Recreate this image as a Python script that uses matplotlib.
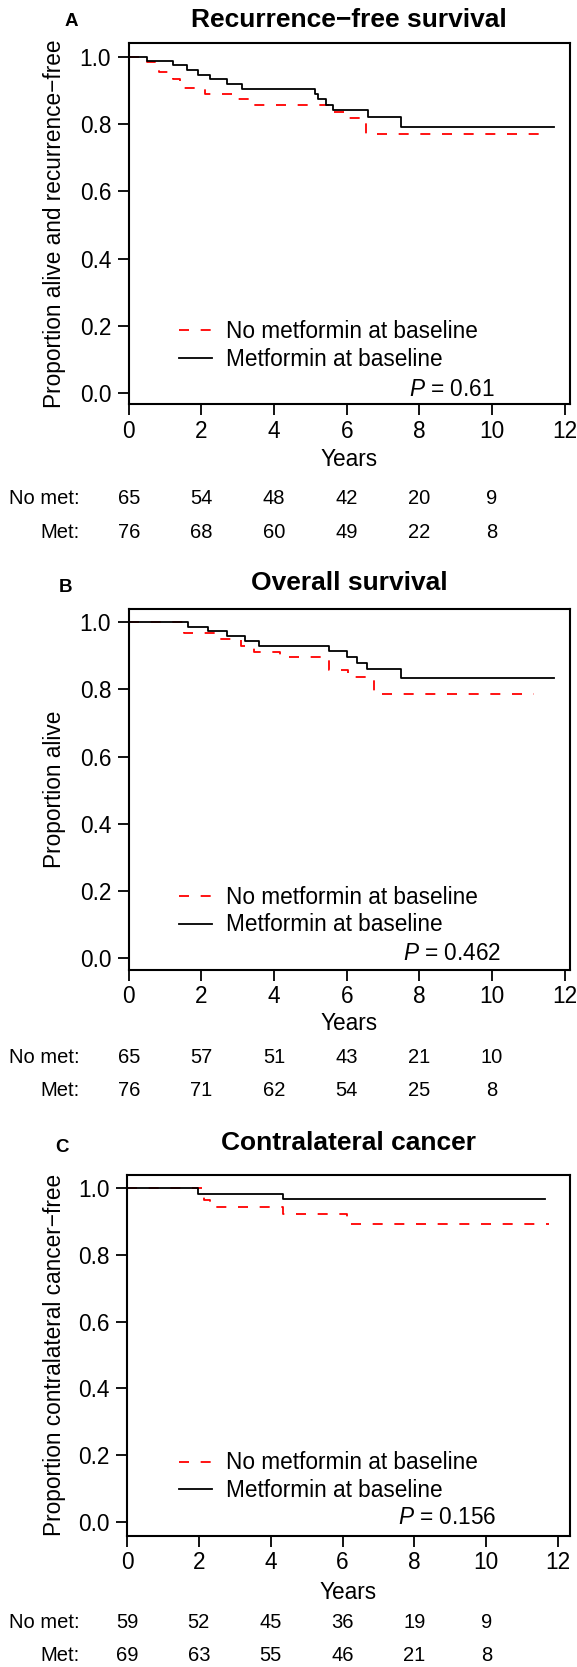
import matplotlib
matplotlib.use("Agg")
import matplotlib.pyplot as plt
from matplotlib.transforms import blended_transform_factory

plt.rcParams['font.family'] = ['Liberation Sans', 'DejaVu Sans']
plt.rcParams['mathtext.fontset'] = 'custom'
plt.rcParams['mathtext.it'] = 'Liberation Sans:italic'
plt.rcParams['mathtext.rm'] = 'Liberation Sans'
plt.rcParams['lines.scale_dashes'] = False

# ---------------- data ----------------
risk_times = [0, 2, 4, 6, 8, 10]

A_met_t = [0, 0.50, 1.21, 1.60, 1.90, 2.23, 2.71, 3.11, 5.14, 5.20, 5.44, 5.62, 6.59, 7.49, 11.70]
A_met_s = [1.0, 0.987, 0.974, 0.961, 0.947, 0.934, 0.920, 0.905, 0.890, 0.873, 0.858, 0.842, 0.822, 0.792, 0.792]
A_nomet_t = [0, 0.49, 0.84, 1.21, 1.40, 2.10, 2.93, 3.35, 5.53, 6.02, 6.53, 11.46]
A_nomet_s = [1.0, 0.985, 0.955, 0.934, 0.906, 0.890, 0.873, 0.857, 0.837, 0.819, 0.770, 0.770]
A_risk_nomet = [65, 54, 48, 42, 20, 9]
A_risk_met = [76, 68, 60, 49, 22, 8]

B_met_t = [0, 1.64, 2.19, 2.70, 3.21, 3.58, 5.52, 6.02, 6.27, 6.57, 7.49, 11.69]
B_met_s = [1.0, 0.986, 0.973, 0.960, 0.946, 0.931, 0.915, 0.897, 0.879, 0.861, 0.833, 0.833]
B_nomet_t = [0, 1.53, 2.40, 3.08, 3.45, 4.15, 5.50, 6.04, 6.75, 11.14]
B_nomet_s = [1.0, 0.968, 0.950, 0.930, 0.913, 0.896, 0.858, 0.838, 0.787, 0.787]
B_risk_nomet = [65, 57, 51, 43, 21, 10]
B_risk_met = [76, 71, 62, 54, 25, 8]

C_met_t = [0, 1.97, 4.34, 11.63]
C_met_s = [1.0, 0.984, 0.967, 0.967]
C_nomet_t = [0, 2.13, 2.30, 4.34, 6.13, 11.74]
C_nomet_s = [1.0, 0.964, 0.944, 0.922, 0.894, 0.894]
C_risk_nomet = [59, 52, 45, 36, 19, 9]
C_risk_met = [69, 63, 55, 46, 21, 8]

titles = ["Recurrence\u2212free survival", "Overall survival", "Contralateral cancer"]
letters = ["A", "B", "C"]
ylabels = ["Proportion alive and recurrence\u2212free", "Proportion alive",
           "Proportion contralateral cancer\u2212free"]
pvalues = ["0.61", "0.462", "0.156"]
legend_labels = ["No metformin at baseline", "Metformin at baseline"]
row_labels = ["No met:", "Met:"]

# ---------------- layout (pixels) ----------------
W, H = 577, 1667
fig = plt.figure(figsize=(W / 100, H / 100), dpi=100)

def fx(x):
    return x / W

def fy(y):
    return 1 - y / H

panels = [
    dict(box=(128.7, 569.5, 43.3, 404.3), ylim=(-0.0324, 1.0398), xmax=12.13,
         title_y=20, letter_xy=(71, 22), years_y=460, rows=(498, 532),
         met=(A_met_t, A_met_s), nomet=(A_nomet_t, A_nomet_s),
         risk=(A_risk_nomet, A_risk_met)),
    dict(box=(128.7, 569.5, 609.3, 970.0), ylim=(-0.036, 1.039), xmax=12.13,
         title_y=583, letter_xy=(66, 587), years_y=1023, rows=(1057, 1090),
         met=(B_met_t, B_met_s), nomet=(B_nomet_t, B_nomet_s),
         risk=(B_risk_nomet, B_risk_met)),
    dict(box=(127.0, 570.0, 1175.0, 1535.5), ylim=(-0.041, 1.04), xmax=12.33,
         title_y=1143, letter_xy=(62, 1147), years_y=1592, rows=(1622, 1655),
         met=(C_met_t, C_met_s), nomet=(C_nomet_t, C_nomet_s),
         risk=(C_risk_nomet, C_risk_met)),
]

FS = 16.3
for i, p in enumerate(panels):
    l, r, t, b = p['box']
    ax = fig.add_axes([fx(l), fy(b), fx(r) - fx(l), (b - t) / H])
    nt, ns = p['nomet']
    mt, ms = p['met']
    ax.step(nt, ns, where='post', color='#FF0000', lw=1.3, dashes=(7.2, 8.4),
            label=legend_labels[0])
    ax.step(mt, ms, where='post', color='black', lw=1.3, label=legend_labels[1])
    ax.set_xlim(0, p['xmax'])
    ax.set_ylim(*p['ylim'])
    ax.set_xticks([0, 2, 4, 6, 8, 10, 12])
    ax.set_xticklabels([str(v) for v in [0, 2, 4, 6, 8, 10, 12]])
    ax.set_yticks([0, 0.2, 0.4, 0.6, 0.8, 1.0])
    ax.set_yticklabels(["0.0", "0.2", "0.4", "0.6", "0.8", "1.0"])
    ax.tick_params(axis='both', direction='out', length=7.6, width=1.3,
                   labelsize=FS, colors='black')
    ax.tick_params(axis='x', pad=3.5)
    ax.tick_params(axis='y', pad=5)
    for s in ax.spines.values():
        s.set_linewidth(1.5)
    # y label
    ax.text((55 - l) / (r - l), 0.5, ylabels[i], transform=ax.transAxes,
            rotation=90, ha='center', va='center', fontsize=FS)
    # legend
    ax.legend(loc='center left', bbox_to_anchor=((178.5 - l) / (r - l), 0.163),
              frameon=False, fontsize=FS, handlelength=1.5, handletextpad=0.6,
              labelspacing=0.2, borderpad=0, borderaxespad=0)
    # p value
    ax.text(8.9, 0.013, "$P$ = " + pvalues[i], ha='center', va='center', fontsize=FS)
    # title & letter
    fig.text(fx((l + r) / 2), fy(p['title_y']), titles[i], ha='center', va='center',
             fontsize=19, fontweight='bold')
    fig.text(fx(p['letter_xy'][0]), fy(p['letter_xy'][1]), letters[i], ha='center',
             va='center', fontsize=13.5, fontweight='bold')
    # x label
    fig.text(fx((l + r) / 2), fy(p['years_y']), "Years", ha='center', va='center',
             fontsize=FS)
    # risk table
    tr = blended_transform_factory(ax.transData, fig.transFigure)
    for k in range(2):
        fig.text(fx(80), fy(p['rows'][k]), row_labels[k], ha='right', va='center',
                 fontsize=14.5)
        for tt, n in zip(risk_times, p['risk'][k]):
            ax.text(tt, fy(p['rows'][k]), str(n), transform=tr, ha='center',
                    va='center', fontsize=14.5, clip_on=False)

fig.savefig("out.png", dpi=100)
